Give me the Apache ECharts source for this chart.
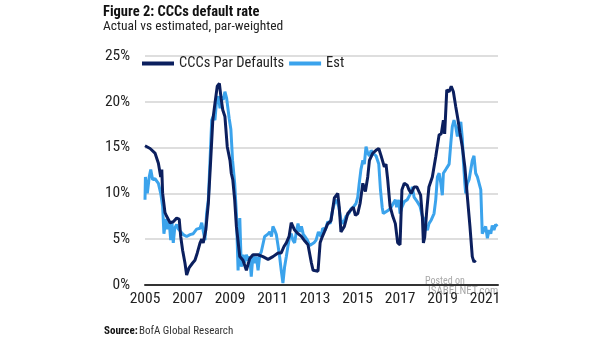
<!DOCTYPE html>
<html>
<head>
<meta charset="utf-8">
<script src="https://cdn.jsdelivr.net/npm/echarts@6/dist/echarts.min.js"></script>
<style>html,body{margin:0;padding:0;background:#fff}#c{width:605px;height:341px}</style>
</head>
<body>
<div id="c"></div>
<script>
// Actual CCC par-weighted default rate (decimal year, %)
var cccYears = [2005.00,2005.24,2005.47,2005.55,2005.63,2005.74,2005.79,2005.83,2005.94,2006.02,2006.18,2006.33,2006.49,2006.61,2006.68,2006.77,2006.88,2006.96,2007.08,2007.24,2007.35,2007.46,2007.59,2007.67,2007.74,2007.86,2007.98,2008.09,2008.19,2008.29,2008.40,2008.50,2008.58,2008.66,2008.76,2008.87,2009.00,2009.06,2009.13,2009.22,2009.30,2009.46,2009.61,2009.77,2009.93,2010.08,2010.32,2010.55,2010.79,2011.02,2011.26,2011.41,2011.54,2011.65,2011.78,2011.88,2012.04,2012.20,2012.36,2012.52,2012.67,2012.83,2012.91,2013.14,2013.19,2013.24,2013.33,2013.44,2013.60,2013.75,2013.91,2014.07,2014.14,2014.22,2014.38,2014.54,2014.69,2014.80,2014.90,2015.01,2015.12,2015.25,2015.37,2015.48,2015.56,2015.72,2015.87,2016.00,2016.11,2016.26,2016.34,2016.42,2016.53,2016.66,2016.78,2016.89,2017.00,2017.09,2017.20,2017.34,2017.42,2017.53,2017.66,2017.79,2017.89,2017.97,2018.05,2018.10,2018.16,2018.26,2018.36,2018.52,2018.68,2018.84,2018.94,2019.04,2019.10,2019.20,2019.31,2019.41,2019.51,2019.62,2019.73,2019.82,2019.93,2020.05,2020.17,2020.29,2020.40,2020.48,2020.56];
var cccValues = [15.2,14.9,14.4,14.2,13.3,11.8,12.6,10.0,7.9,7.5,6.8,6.9,7.3,7.2,5.3,3.8,2.4,1.1,1.9,2.4,2.7,3.5,4.6,5.0,4.6,6.0,8.9,13.6,18.0,19.8,21.7,22.0,20.4,19.1,18.4,15.1,13.6,12.2,11.5,9.3,6.4,3.1,2.7,1.6,2.9,3.3,3.3,3.1,2.8,3.1,3.5,3.5,4.2,4.6,5.3,6.8,6.0,5.6,5.3,4.8,4.4,2.4,1.6,1.5,1.6,4.6,5.2,5.8,6.7,7.0,9.5,10.0,8.5,5.8,6.4,7.8,8.2,8.5,7.6,7.8,8.9,11.1,10.2,11.8,13.6,14.4,14.7,14.9,14.1,12.9,13.2,11.5,8.6,7.5,6.7,4.6,4.4,10.4,11.1,10.9,10.4,10.0,10.7,10.7,10.2,9.8,7.5,4.6,5.2,8.2,10.7,11.8,14.0,16.4,16.5,18.0,16.5,21.3,21.1,21.7,21.1,19.5,18.0,16.6,15.1,12.9,9.6,6.4,3.1,2.5,2.7];

// Estimated default rate (decimal year, %)
var estYears = [2005.00,2005.02,2005.05,2005.11,2005.20,2005.27,2005.36,2005.47,2005.63,2005.74,2005.83,2005.89,2005.99,2006.05,2006.14,2006.21,2006.27,2006.33,2006.40,2006.49,2006.57,2006.65,2006.80,2006.96,2007.12,2007.27,2007.43,2007.59,2007.67,2007.74,2007.82,2007.90,2007.98,2008.06,2008.14,2008.21,2008.29,2008.37,2008.45,2008.53,2008.61,2008.68,2008.76,2008.84,2008.89,2008.96,2009.04,2009.12,2009.22,2009.30,2009.38,2009.46,2009.53,2009.61,2009.69,2009.77,2009.85,2009.93,2010.00,2010.08,2010.16,2010.24,2010.32,2010.40,2010.47,2010.63,2010.76,2010.87,2010.95,2011.02,2011.10,2011.18,2011.26,2011.34,2011.41,2011.49,2011.57,2011.65,2011.73,2011.81,2011.88,2011.96,2012.04,2012.12,2012.20,2012.28,2012.36,2012.44,2012.52,2012.64,2012.75,2012.83,2012.95,2013.05,2013.16,2013.28,2013.36,2013.48,2013.60,2013.71,2013.83,2013.91,2014.02,2014.12,2014.22,2014.33,2014.46,2014.59,2014.69,2014.80,2014.93,2015.01,2015.08,2015.16,2015.25,2015.32,2015.40,2015.48,2015.56,2015.64,2015.72,2015.87,2016.00,2016.08,2016.16,2016.21,2016.34,2016.47,2016.58,2016.68,2016.78,2016.84,2016.94,2017.00,2017.09,2017.20,2017.34,2017.50,2017.58,2017.66,2017.81,2017.94,2018.05,2018.13,2018.21,2018.29,2018.36,2018.47,2018.60,2018.68,2018.76,2018.84,2018.92,2018.99,2019.04,2019.15,2019.23,2019.31,2019.39,2019.46,2019.54,2019.62,2019.70,2019.78,2019.86,2019.93,2019.98,2020.05,2020.09,2020.17,2020.25,2020.33,2020.40,2020.48,2020.56,2020.64,2020.72,2020.80,2020.87,2020.95,2021.03,2021.11,2021.19,2021.27,2021.34,2021.42,2021.50,2021.58];
var estValues = [9.3,11.8,11.8,10.0,11.8,12.6,11.5,11.6,11.1,10.0,8.6,5.6,7.2,6.1,6.8,4.9,6.8,4.6,6.2,6.6,6.1,5.9,5.5,5.3,5.5,5.6,6.1,6.2,6.8,6.9,4.9,7.8,9.3,13.6,18.0,18.4,18.0,20.2,20.6,19.3,20.6,20.2,21.1,20.4,20.5,18.2,17.0,13.6,11.1,7.8,1.6,7.3,2.0,3.3,2.4,3.3,2.7,3.1,0.9,3.3,2.4,3.1,1.6,3.3,3.6,5.3,5.5,5.8,5.3,6.4,6.0,5.5,4.3,3.0,1.6,0.2,2.0,3.1,4.3,5.3,5.6,4.9,4.6,5.8,6.7,5.8,6.4,5.6,5.3,4.9,4.3,4.1,4.6,4.9,5.8,5.3,6.2,6.0,6.9,6.7,8.2,8.9,9.3,8.5,7.1,6.7,7.5,7.8,8.3,8.5,8.9,9.6,11.1,12.6,13.6,13.2,15.1,14.4,14.1,14.7,14.4,14.1,13.2,10.4,8.5,7.8,8.0,8.2,8.5,8.9,9.3,8.5,9.3,7.8,8.5,9.1,9.3,10.0,10.7,9.6,9.1,8.6,7.5,7.2,6.4,6.0,6.7,7.1,7.8,9.3,11.8,12.2,11.1,9.8,12.2,12.6,12.9,13.2,15.5,17.3,18.0,17.3,16.2,17.3,17.8,16.0,13.6,11.1,10.0,11.1,11.5,12.6,13.6,14.1,12.2,11.8,11.9,10.4,5.6,5.5,6.4,5.1,6.0,5.6,6.5,6.0,6.6,6.4];

var baseYear = 2005;
var xTickLabels = ['2005','2007','2009','2011','2013','2015','2017','2019','2021'];
var yTicks = [0,5,10,15,20,25];

function pairs(ys, vs){ return ys.map(function(y,i){ return [y-baseYear, vs[i]]; }); }

var FONT = 'Roboto, "Liberation Sans", sans-serif';
var COND = 'condensed';          // font-stretch keyword placed in the weight slot
var COND_B = 'bold condensed';
var navy = '#0b1f5e', sky = '#3ba3ec';

var chart = echarts.init(document.getElementById('c'), null, {renderer:'canvas'});
chart.setOption({
  animation:false,
  backgroundColor:'#fff',
  title:[
    {text:'Figure 2: CCCs default rate', left:103, top:5, padding:0, textStyle:{fontFamily:FONT, fontSize:14.5, fontWeight:COND_B, color:'#111'}},
    {text:'Actual vs estimated, par-weighted', left:103, top:20, padding:0, textStyle:{fontFamily:FONT, fontSize:13.5, fontWeight:COND, color:'#222'}}
  ],
  legend:{
    left:142, top:56, padding:0, itemWidth:32, itemHeight:4, itemGap:5, icon:'rect',
    textStyle:{fontFamily:FONT, fontSize:14.5, fontWeight:COND, color:'#222'},
    data:['CCCs Par Defaults','Est']
  },
  grid:{left:145, right:107, top:56, bottom:56, containLabel:false},
  xAxis:{
    type:'value', min:0, max:16.61, interval:2,
    axisLine:{show:true, lineStyle:{color:'#333', width:2}},
    axisTick:{show:false},
    splitLine:{show:false},
    axisLabel:{
      margin:6, fontFamily:FONT, fontSize:15.5, fontWeight:COND, color:'#222', showMaxLabel:false,
      formatter:function(v){ var k = Math.round(v/2); return (Math.abs(v-2*k)<1e-6 && xTickLabels[k]) ? xTickLabels[k] : ''; }
    }
  },
  yAxis:{
    type:'value', min:yTicks[0], max:yTicks[yTicks.length-1], interval:5,
    axisLine:{show:false}, axisTick:{show:false},
    splitLine:{show:true, lineStyle:{color:'#d3d3d3', width:1.5}},
    axisLabel:{margin:15, fontFamily:FONT, fontSize:15.5, fontWeight:COND, color:'#222', formatter:'{value}%'}
  },
  series:[
    {name:'CCCs Par Defaults', type:'line', data:pairs(cccYears,cccValues), showSymbol:false, symbol:'none',
     lineStyle:{color:navy, width:3}, itemStyle:{color:navy}, z:3},
    {name:'Est', type:'line', data:pairs(estYears,estValues), showSymbol:false, symbol:'none',
     lineStyle:{color:sky, width:3}, itemStyle:{color:sky}, z:2}
  ],
  graphic:[
    {type:'text', left:104, top:326, style:{text:'Source:', font:'bold condensed 11px '+FONT, fill:'#111'}},
    {type:'text', left:139, top:326, style:{text:'BofA Global Research', font:'condensed 11px '+FONT, fill:'#333'}},
    {type:'text', left:425, top:276, style:{text:'Posted on', font:'condensed 10px '+FONT, fill:'#a8a8a8'}},
    {type:'text', left:428, top:286, style:{text:'ISABELNET.com', font:'condensed 11px '+FONT, fill:'#a8a8a8'}}
  ]
});
</script>
</body>
</html>
